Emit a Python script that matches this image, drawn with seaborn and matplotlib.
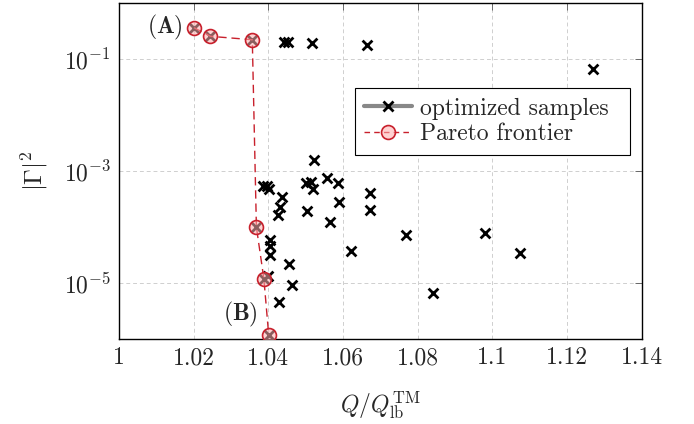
import numpy as np
import pandas as pd
import matplotlib
matplotlib.use("Agg")
import matplotlib.pyplot as plt
from matplotlib.lines import Line2D
import seaborn as sns

# ---- data ----
sample_q = [1.0441, 1.0453, 1.0517, 1.0663, 1.1270, 1.0522, 1.0386, 1.0396, 1.0402,
            1.0437, 1.0431, 1.0425, 1.0500, 1.0513, 1.0520, 1.0557, 1.0587, 1.0589,
            1.0504, 1.0566, 1.0405, 1.0405, 1.0405, 1.0621, 1.0455, 1.0399, 1.0464,
            1.0428, 1.0671, 1.0671, 1.0768, 1.0979, 1.1073, 1.0841,
            1.0201, 1.0245, 1.0357, 1.0368, 1.0388, 1.0401]
sample_g = [0.20, 0.20, 0.19, 0.18, 0.067, 1.6e-3, 5.3e-4, 5.4e-4, 4.7e-4,
            3.4e-4, 2.3e-4, 1.64e-4, 6.0e-4, 6.4e-4, 4.7e-4, 7.4e-4, 6.2e-4, 2.8e-4,
            1.96e-4, 1.25e-4, 5.9e-5, 4.5e-5, 3.2e-5, 3.8e-5, 2.2e-5, 1.35e-5, 9.3e-6,
            4.6e-6, 4.1e-4, 2.0e-4, 7.2e-5, 7.8e-5, 3.5e-5, 6.6e-6,
            0.362, 0.254, 0.221, 9.9e-5, 1.19e-5, 1.17e-6]

pareto_q = [1.0201, 1.0245, 1.0357, 1.0368, 1.0388, 1.0401]
pareto_g = [0.362, 0.254, 0.221, 9.9e-5, 1.19e-5, 1.17e-6]

x_ticks = [1.0, 1.02, 1.04, 1.06, 1.08, 1.10, 1.12, 1.14]
x_ticklabels = ["1", "1.02", "1.04", "1.06", "1.08", "1.1", "1.12", "1.14"]
y_ticks = [1e-5, 1e-3, 1e-1]
legend_labels = ["optimized samples", "Pareto frontier"]
annot_labels = [r"$\mathbf{(A)}$", r"$\mathbf{(B)}$"]

samples = pd.DataFrame({"q": sample_q, "g": sample_g})
pareto = pd.DataFrame({"q": pareto_q, "g": pareto_g})

sns.set_theme(style="white")
plt.rcParams["font.family"] = "serif"
plt.rcParams["font.serif"] = ["cmr10"]
plt.rcParams["mathtext.fontset"] = "cm"
plt.rcParams["axes.formatter.use_mathtext"] = True

FS = 17
red = "#c8202c"
fill = (1.0, 0.68, 0.68, 0.55)

fig = plt.figure(figsize=(6.94, 4.24), dpi=100)
ax = fig.add_axes([0.1715, 0.2005, 0.9246 - 0.1715, 0.9929 - 0.2005])

sns.scatterplot(data=samples, x="q", y="g", marker="x", color="black", s=50,
                linewidth=2.0, ax=ax, zorder=3, legend=False)
sns.lineplot(data=pareto, x="q", y="g", sort=False, estimator=None, ax=ax,
             color=red, lw=1.0, dashes=False, zorder=4, legend=False)
ax.lines[-1].set_linestyle((0, (6, 3.5)))
ax.plot(pareto["q"], pareto["g"], ls="none", marker="o", ms=10,
        mfc=fill, mec=red, mew=1.2, zorder=5)

ax.set_yscale("log")
ax.set_xlim(1.0, 1.14)
ax.set_ylim(1e-6, 1.0)
ax.set_xticks(x_ticks)
ax.set_xticklabels(x_ticklabels)
ax.set_yticks(y_ticks)
ax.yaxis.set_minor_locator(matplotlib.ticker.NullLocator())
ax.tick_params(which="both", direction="in", top=True, right=True, length=5,
               width=0.6, color="#555555", labelsize=FS, pad=6)
ax.grid(True, which="major", ls=(0, (4, 3)), color="#cfcfcf", lw=0.7)
for sp in ax.spines.values():
    sp.set_color("black")
    sp.set_linewidth(1.0)

ax.set_xlabel(r"$Q/Q_{\mathrm{lb}}^{\mathrm{TM}}$", fontsize=FS, labelpad=14)
ax.set_ylabel(r"$|\Gamma|^2$", fontsize=18, labelpad=10)

ax.annotate(annot_labels[0], xy=(pareto_q[0], pareto_g[0]), xytext=(-8, 0),
            textcoords="offset points", ha="right", va="center", fontsize=FS)
ax.annotate(annot_labels[1], xy=(pareto_q[-1], pareto_g[-1]), xytext=(-8, 15),
            textcoords="offset points", ha="right", va="center", fontsize=FS)

h1 = Line2D([], [], color="#888888", lw=3, marker="x", mec="black", mew=2.0, ms=7)
h2 = Line2D([], [], color=red, lw=1.0, ls=(0, (4, 3)), marker="o", ms=10,
            mfc=fill, mec=red, mew=1.2)
leg = ax.legend([h1, h2], legend_labels, loc="upper left",
                bbox_to_anchor=(0.4515, 0.554, 0.5261, 0.193), mode="expand",
                fontsize=FS, frameon=True,
                fancybox=False, framealpha=1, edgecolor="black",
                handlelength=2.0, handletextpad=0.35, borderpad=0.4,
                labelspacing=0.15, borderaxespad=0)
leg.get_frame().set_linewidth(0.8)

fig.savefig("out.png", dpi=100)
